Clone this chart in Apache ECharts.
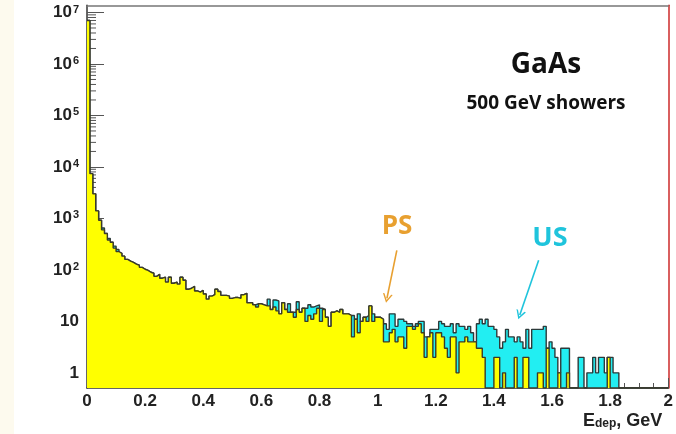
<!DOCTYPE html>
<html><head><meta charset="utf-8">
<script src="https://cdn.jsdelivr.net/npm/echarts@6/dist/echarts.min.js"></script>
<style>html,body{margin:0;padding:0;background:#fff}#c{width:676px;height:434px}</style>
</head><body><div id="c"></div>
<script>
// Histogram: 200 bins of width 0.01 GeV from 0 to 2 GeV
const binWidth = 0.01;
const xMin = 0, xMax = 2;
const yMin = 0.508, yMax = 1.38e7;

// total (US, cyan) counts per bin
const usCounts = [
  7000000, 7400, 3000, 1400, 920, 650, 510, 410, 345, 290,
  250, 210, 185, 160, 148, 140, 129, 123, 112, 103,
  98, 90, 86, 75, 82, 69, 72, 58, 72, 55,
  58, 53, 72, 63, 42, 44, 48, 39, 37, 40,
  34, 27, 31, 33, 42, 38, 32, 32, 31, 28,
  29, 29, 28, 33, 35, 23, 23, 21, 22, 22,
  21, 20, 27, 17, 26, 25, 14, 23, 17, 22,
  15, 15, 24, 15, 18, 18, 21, 19, 20, 21,
  18, 17, 12, 8, 15, 16, 15, 17, 14, 14,
  13, 13, 11, 14, 10, 12, 13, 20, 14, 12,
  12, 11, 9, 7, 14, 14, 8, 11, 11, 10,
  9, 9, 8, 9, 10, 10, 5, 5, 7, 7,
  7, 10, 9, 8, 8, 9, 6, 9, 8, 8,
  7, 8, 6, 4, 9, 11, 9, 11, 8, 8,
  7, 5, 3, 4, 7, 5, 5, 4, 5, 4,
  3, 7, 3, 7, 7, 7, 7, 8, 3, 4,
  3, 2, 1, 3, 3, 3, 0, 0, 0, 2,
  2, 0, 1, 1, 2, 1, 2, 2, 1, 2,
  2, 1, 1, 0, 0, 0, 0, 0, 0, 0,
  0, 0, 0, 0, 0, 0, 0, 0, 0, 0
];
// PS (yellow) counts per bin
const psCounts = [
  7000000, 7400, 3000, 1400, 920, 600, 510, 380, 345, 265,
  228, 210, 185, 160, 148, 140, 129, 123, 112, 103,
  98, 90, 86, 75, 82, 69, 72, 58, 72, 55,
  58, 53, 72, 63, 42, 44, 48, 39, 37, 40,
  34, 27, 31, 33, 42, 38, 32, 32, 31, 28,
  29, 29, 28, 33, 35, 23, 23, 21, 19, 22,
  21, 20, 20, 17, 19, 16, 14, 23, 17, 15,
  15, 12, 17, 15, 18, 10, 13, 11, 14, 18,
  10, 17, 12, 8, 15, 16, 15, 17, 14, 14,
  13, 5, 11, 6, 10, 12, 10, 20, 10, 12,
  12, 11, 4, 4, 6, 7, 4, 5, 5, 3,
  8, 8, 7, 8, 9, 6, 2, 5, 6, 2,
  6, 6, 5, 3, 2, 5, 5, 1, 4, 4,
  5, 4, 4, 4, 3, 3, 2, 0, 0, 0,
  2, 2, 0, 1, 0, 0, 0, 2, 0, 0,
  2, 2, 0, 0, 0, 1, 1, 0, 3, 0,
  0, 0, 1, 0, 0, 1, 0, 0, 0, 0,
  0, 0, 0, 0, 0, 0, 0, 0, 0, 2,
  0, 0, 0, 0, 0, 0, 0, 0, 0, 0,
  0, 0, 0, 0, 0, 0, 0, 0, 0, 0
];
// arrows: [start x, start y] -> [tip x, tip y] in data units
const psArrow = [[1.066, 240], [1.032, 28]];
const usArrow = [[1.554, 154], [1.489, 13.3]];

function stepData(counts) {
  const d = counts.map((v, i) => [+(i * binWidth).toFixed(4), v > 0 ? v : yMin]);
  const last = counts[counts.length - 1];
  d.push([xMax, last > 0 ? last : yMin]);
  return d;
}
const minorTicks = [];
for (let e = -1; e <= 7; e++) for (let m = 2; m <= 9; m++) {
  const v = m * Math.pow(10, e);
  if (v > yMin && v < yMax) minorTicks.push([0, v]);
}
const LF = 'Liberation Sans';
const chevron = 'path://M0,10 L5,0 L10,10 L8.4,10 L5,3.2 L1.6,10 Z';

const chart = echarts.init(document.getElementById('c'), null, {renderer: 'canvas'});
chart.setOption({
  animation: false,
  backgroundColor: '#ffffff',
  grid: {left: 87, right: 5, top: 4, bottom: 46, containLabel: false},
  xAxis: [{
    type: 'value', min: xMin, max: xMax, interval: 0.2,
    axisLine: {onZero: false, lineStyle: {color: '#333', width: 1.5}},
    axisTick: {inside: true, length: 10, lineStyle: {color: '#555'}},
    minorTick: {show: true, splitNumber: 4, length: 5, lineStyle: {color: '#555'}},
    splitLine: {show: false}, minorSplitLine: {show: false},
    axisLabel: {margin: 5, fontSize: 17, fontWeight: 'bold', fontFamily: LF, color: '#222'}
  }, {
    type: 'value', position: 'top', min: xMin, max: xMax,
    axisLine: {show: true, onZero: false, lineStyle: {color: '#777', width: 1.5}},
    axisTick: {show: false}, axisLabel: {show: false}, splitLine: {show: false}
  }],
  yAxis: [{
    type: 'log', logBase: 10, min: yMin, max: yMax,
    axisLine: {show: true, onZero: false, lineStyle: {color: '#333', width: 1.5}},
    axisTick: {show: true, inside: true, length: 17, lineStyle: {color: '#555', width: 1}},
    splitLine: {show: false},
    axisLabel: {
      margin: 8, showMinLabel: false, showMaxLabel: false,
      formatter: function (v) {
        const n = Math.round(Math.log10(v));
        if (Math.abs(v / Math.pow(10, n) - 1) > 1e-6) return '';
        if (n === 0) return '{p|1}';
        if (n === 1) return '{p|10}';
        return '{b|10}{s|' + n + '}';
      },
      rich: {
        p: {fontSize: 17, fontWeight: 'bold', fontFamily: LF, color: '#222'},
        b: {fontSize: 17, fontWeight: 'bold', fontFamily: LF, color: '#222', lineHeight: 17, padding: [4, 0, 0, 0], verticalAlign: 'bottom'},
        s: {fontSize: 11, fontWeight: 'bold', fontFamily: LF, color: '#222', lineHeight: 11, padding: [0, 0, 0, 1], verticalAlign: 'top'}
      }
    }
  }, {
    type: 'value', position: 'right', min: 0, max: 1,
    axisLine: {show: true, onZero: false, lineStyle: {color: '#cc2a2a', width: 1.5}},
    axisTick: {show: false}, axisLabel: {show: false}, splitLine: {show: false}
  }],
  series: [{
    type: 'custom', silent: true, z: 1, clip: false,
    xAxisIndex: 0, yAxisIndex: 0,
    data: minorTicks,
    renderItem: function (params, api) {
      const p = api.coord([0, api.value(1)]);
      return {type: 'line', shape: {x1: p[0], y1: p[1], x2: p[0] + 9, y2: p[1]}, style: {stroke: '#555', lineWidth: 1}};
    }
  }, {
    name: 'US', type: 'line', step: 'end', z: 2, silent: true,
    showSymbol: false, symbol: 'none',
    data: stepData(usCounts),
    lineStyle: {color: '#2d3a3a', width: 1.4},
    areaStyle: {color: '#22eef2', opacity: 1, origin: 'start'}
  }, {
    name: 'PS', type: 'line', step: 'end', z: 3, silent: true,
    showSymbol: false, symbol: 'none',
    data: stepData(psCounts),
    lineStyle: {color: '#3a3a2a', width: 1.4},
    areaStyle: {color: '#ffff00', opacity: 1, origin: 'start'},
    markLine: {
      silent: true, animation: false,
      symbol: ['none', chevron], symbolSize: [10, 9],
      label: {show: false},
      data: [
        [{coord: psArrow[0], lineStyle: {color: '#e8a030', width: 1.6, type: 'solid'}}, {coord: psArrow[1]}],
        [{coord: usArrow[0], lineStyle: {color: '#1fc4dc', width: 1.6, type: 'solid'}}, {coord: usArrow[1]}]
      ]
    }
  }],
  graphic: [
    {type: 'rect', z: -10, shape: {x: 0, y: 0, width: 14, height: 434}, style: {fill: '#fdfaee'}},
    {type: 'text', x: 546, y: 65, style: {text: 'GaAs', font: 'bold 28px "Open Sans"', fill: '#111', align: 'center', verticalAlign: 'middle'}},
    {type: 'text', x: 546, y: 104, style: {text: '500 GeV showers', font: 'bold 19px "Open Sans"', fill: '#111', align: 'center', verticalAlign: 'middle'}},
    {type: 'text', x: 397, y: 227, style: {text: 'PS', font: 'bold 26px "Open Sans"', fill: '#e8a030', align: 'center', verticalAlign: 'middle'}},
    {type: 'text', x: 550, y: 238, style: {text: 'US', font: 'bold 27px "Open Sans"', fill: '#1fc4dc', align: 'center', verticalAlign: 'middle'}},
    {type: 'text', x: 583, y: 421, style: {
      text: '{a|E}{b|dep}{a|, GeV}', align: 'left', verticalAlign: 'middle',
      rich: {
        a: {fontSize: 18, fontWeight: 'bold', fontFamily: LF, fill: '#222', color: '#222', lineHeight: 18, verticalAlign: 'top', padding: [0, 0, 4, 0]},
        b: {fontSize: 12, fontWeight: 'bold', fontFamily: LF, fill: '#222', color: '#222', lineHeight: 12, verticalAlign: 'bottom'}
      }
    }}
  ]
});
</script>
</body></html>
